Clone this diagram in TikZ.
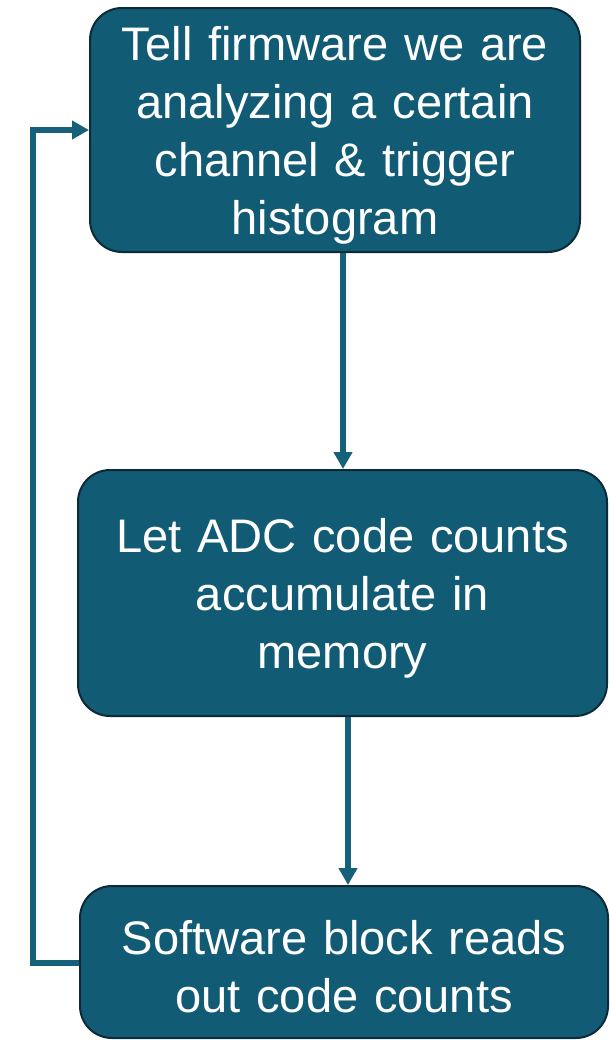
\documentclass[tikz,border=0pt]{standalone}
\usepackage{fontspec}
\setmainfont{Liberation Sans}
\usetikzlibrary{arrows.meta,calc}
\definecolor{boxfill}{HTML}{125B75}
\definecolor{boxedge}{HTML}{0C2A38}
\definecolor{flow}{HTML}{16607A}
% taller first line so the text block sits a little lower in its box
\newcommand{\toplift}{\rule{0pt}{33pt}}
\begin{document}
\begin{tikzpicture}[x=0.75pt,y=-0.75pt,
  stepbox/.style={draw=boxedge,line width=1.5pt,fill=boxfill,rounded corners=24pt,
    text=white,align=center,inner sep=0pt,
    font=\fontsize{35.3pt}{43.5pt}\selectfont},
  flowline/.style={draw=flow,line width=4pt,-{Triangle[length=12.75pt,width=13.5pt]}}]
\useasboundingbox (0,0) rectangle (610,1040);
\node[stepbox,minimum width=490*0.75pt,minimum height=244*0.75pt,text width=470*0.75pt] (b1) at (335,130)
  {\toplift Tell firmware we are\\analyzing a certain\\channel \& trigger\\histogram};
\node[stepbox,minimum width=529*0.75pt,minimum height=246*0.75pt,text width=510*0.75pt] (b2) at (342.5,593)
  {\toplift Let ADC code counts\\accumulate in\\memory};
\node[stepbox,minimum width=528*0.75pt,minimum height=152*0.75pt,text width=510*0.75pt] (b3) at (344,962)
  {\toplift Software block reads\\out code counts};
\draw[flowline] ($(b1.south)+(8,0)$) -- ($(b2.north)+(0.5,0)$);
\draw[flowline] ($(b2.south)+(5.5,0)$) -- ($(b3.north)+(4,0)$);
\coordinate (c1) at (33,963);
\coordinate (c2) at (33,130);
\draw[flowline,line join=miter] ($(b3.west)+(0,1)$) -- (c1) -- (c2) -- (b1.west);
\end{tikzpicture}
\end{document}
